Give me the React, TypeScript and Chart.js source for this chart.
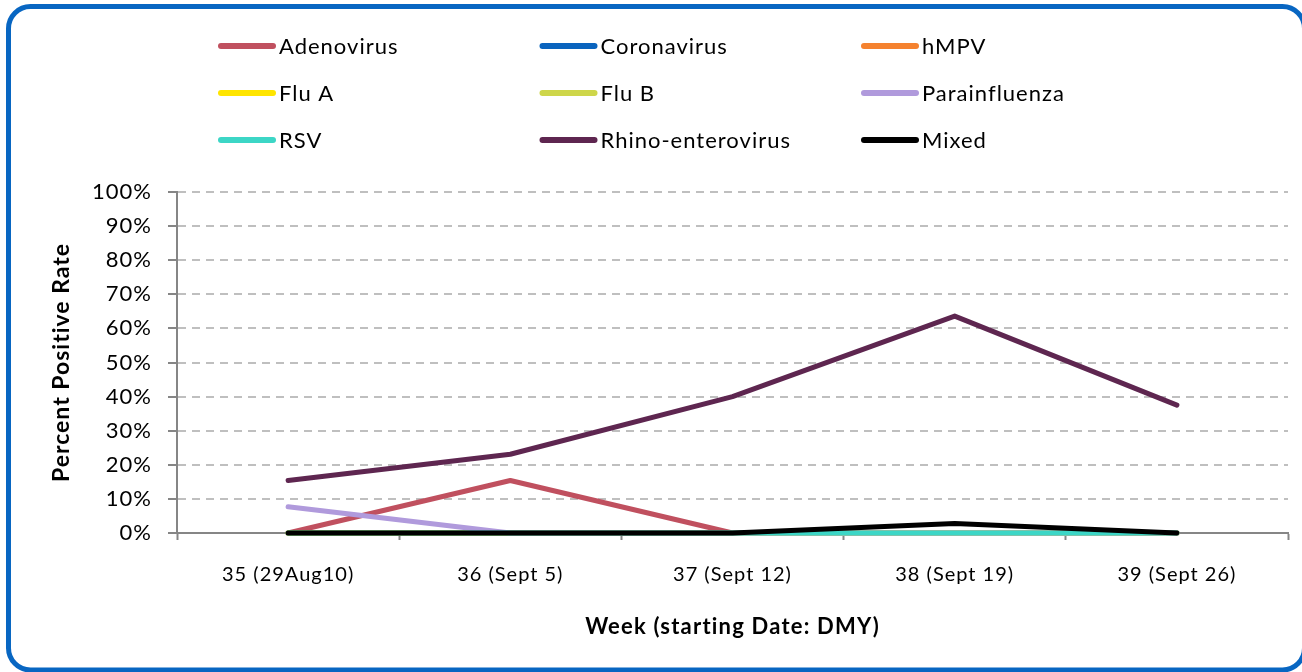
import React, { useEffect, useRef } from "react";
import { Chart, registerables } from "chart.js";

Chart.register(...registerables);

const FONT = "Lato, 'Open Sans', sans-serif";

const categories = ["35 (29Aug10)", "36 (Sept 5)", "37 (Sept 12)", "38 (Sept 19)", "39 (Sept 26)"];

const seriesNames = [
  "Adenovirus",
  "Coronavirus",
  "hMPV",
  "Flu A",
  "Flu B",
  "Parainfluenza",
  "RSV",
  "Rhino-enterovirus",
  "Mixed",
];
const seriesColors = [
  "#C0505F",
  "#0A64BE",
  "#F5822F",
  "#FFE500",
  "#CED64A",
  "#B09ADC",
  "#3CD6C6",
  "#5E2650",
  "#000000",
];

const adenovirus = [0, 15.4, 0, 0, 0];
const coronavirus = [0, 0, 0, 0, 0];
const hmpv = [0, 0, 0, 0, 0];
const fluA = [0, 0, 0, 0, 0];
const fluB = [0, 0, 0, 0, 0];
const parainfluenza = [7.7, 0, 0, 0, 0];
const rsv = [0, 0, 0, 0, 0];
const rhinoEnterovirus = [15.4, 23.1, 40.0, 63.6, 37.5];
const mixed = [0, 0, 0, 2.8, 0];

const seriesValues = [adenovirus, coronavirus, hmpv, fluA, fluB, parainfluenza, rsv, rhinoEnterovirus, mixed];

const yMin = 0;
const yMax = 100;
const yStep = 10;

const yTitle = "Percent Positive Rate";
const xTitle = "Week (starting Date: DMY)";

const decorPlugin = {
  id: "decor",
  beforeDraw(chart: any) {
    const ctx = chart.ctx as any;
    ctx.save();
    ctx.fillStyle = "#ffffff";
    ctx.fillRect(0, 0, chart.width, chart.height);
    ctx.beginPath();
    ctx.roundRect(8.5, 6.5, 1296, 663.5, 22);
    ctx.lineWidth = 5;
    ctx.strokeStyle = "#0866C2";
    ctx.stroke();
    ctx.restore();
    ctx.letterSpacing = "1px";
  },
  afterDraw(chart: any) {
    const ctx = chart.ctx as any;
    const area = chart.chartArea;
    ctx.save();
    // legend (3 columns)
    ctx.letterSpacing = "1px";
    ctx.font = `22px ${FONT}`;
    ctx.textBaseline = "middle";
    ctx.textAlign = "left";
    chart.data.datasets.forEach((d: any, i: number) => {
      const col = i % 3;
      const row = Math.floor(i / 3);
      const x = 221 + col * 321.5;
      const y = 46 + row * 47;
      ctx.beginPath();
      ctx.moveTo(x, y);
      ctx.lineTo(x + 52, y);
      ctx.lineWidth = 6;
      ctx.lineCap = "round";
      ctx.strokeStyle = d.borderColor;
      ctx.stroke();
      ctx.fillStyle = "#000";
      ctx.fillText(d.label, x + 58, y + 1);
    });
    // axis titles
    ctx.fillStyle = "#000";
    ctx.textAlign = "center";
    ctx.textBaseline = "middle";
    ctx.font = `bold 22px ${FONT}`;
    ctx.letterSpacing = "1.2px";
    ctx.fillText(xTitle, (area.left + area.right) / 2, 627);
    ctx.font = `bold 23px ${FONT}`;
    ctx.letterSpacing = "1px";
    ctx.translate(62, (area.top + area.bottom) / 2);
    ctx.rotate(-Math.PI / 2);
    ctx.fillText(yTitle, 0, 0);
    ctx.restore();
    ctx.letterSpacing = "0px";
  },
};

export default function App() {
  const canvasRef = useRef<HTMLCanvasElement | null>(null);

  useEffect(() => {
    document.body.style.margin = "0";
    const canvas = canvasRef.current;
    if (!canvas) return;
    Chart.defaults.font.family = FONT;
    const n = seriesNames.length;
    const chart = new Chart(canvas, {
      type: "line",
      data: {
        labels: categories,
        datasets: seriesNames.map((name, i) => ({
          label: name,
          data: seriesValues[i],
          borderColor: seriesColors[i],
          backgroundColor: seriesColors[i],
          borderWidth: 5,
          pointRadius: 0,
          pointHoverRadius: 0,
          tension: 0,
          fill: false,
          clip: false as any,
          borderCapStyle: "round" as const,
          borderJoinStyle: "round" as const,
          order: n - 1 - i,
        })),
      },
      options: {
        responsive: false,
        animation: false,
        layout: { padding: { top: 192, right: 14, left: 0, bottom: 0 } },
        plugins: {
          legend: { display: false },
          tooltip: { enabled: false },
          title: { display: false },
        },
        scales: {
          x: {
            type: "category",
            offset: true,
            grid: {
              offset: true,
              drawOnChartArea: false,
              drawTicks: true,
              tickLength: 7,
              tickColor: "#868686",
              tickWidth: 2,
            },
            border: { display: true, color: "#868686", width: 2 },
            ticks: {
              color: "#000",
              font: { size: 20, family: FONT },
              padding: 23,
              maxRotation: 0,
              autoSkip: false,
            },
            afterFit: (s: any) => {
              s.height = 139;
            },
          },
          y: {
            min: yMin,
            max: yMax,
            grid: {
              color: (c: any) => (c.tick && c.tick.value === 0 ? "rgba(0,0,0,0)" : "#BFBFBF"),
              lineWidth: 2,
              drawTicks: true,
              tickLength: 9,
              tickColor: "#868686",
              tickWidth: 2,
              borderDash: [8, 6],
            } as any,
            border: { display: true, color: "#868686", width: 2, dash: [8, 6] } as any,
            ticks: {
              stepSize: yStep,
              color: "#000",
              font: { size: 22, family: FONT },
              padding: 16,
              callback: (v: any) => `${v}%`,
            },
            afterFit: (s: any) => {
              s.width = 177;
            },
          },
        },
      },
      plugins: [decorPlugin],
    });
    return () => chart.destroy();
  }, []);

  return (
    <div style={{ position: "absolute", left: 0, top: 0, width: 1302, height: 672 }}>
      <canvas ref={canvasRef} width={1302} height={672} style={{ width: 1302, height: 672, display: "block" }} />
    </div>
  );
}
